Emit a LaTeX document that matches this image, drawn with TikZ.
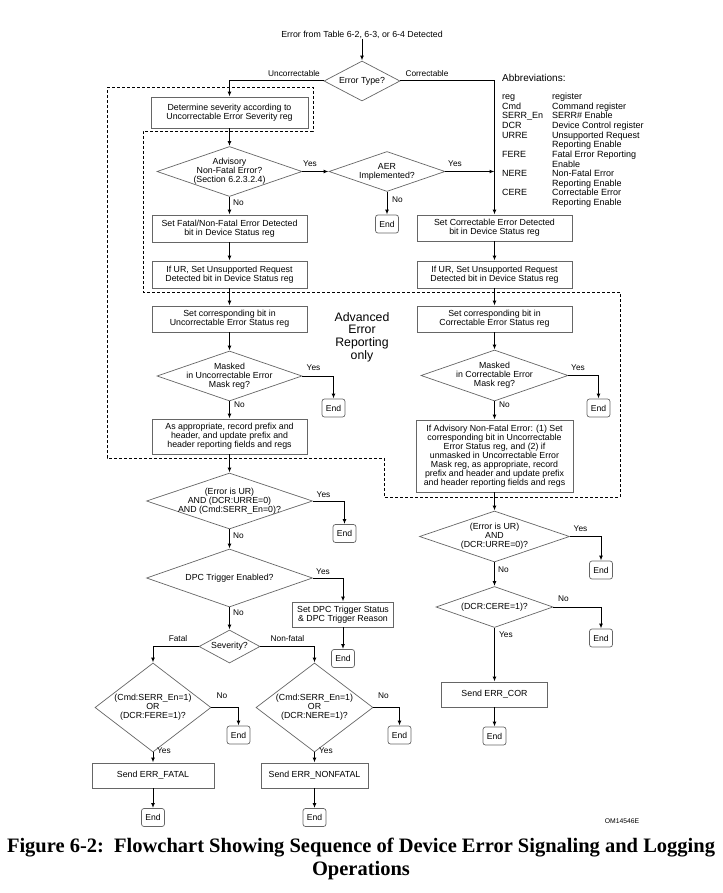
\documentclass[tikz,border=0pt]{standalone}
\usepackage{fontspec}
\setmainfont{Liberation Sans}
\newfontfamily\capfont{Liberation Serif}
\usetikzlibrary{shapes.geometric,arrows.meta}
\newcommand\boxfont{\fontsize{8.8}{9.2}\selectfont}
\newcommand\labfont{\fontsize{8.3}{9}\selectfont}
\newlength\capw
\begin{document}
\settowidth\capw{\capfont\bfseries\fontsize{10}{12}\selectfont Figure 6-2:\ \ Flowchart Showing Sequence of Device Error Signaling and Logging}%
\pgfmathsetmacro\capsz{10*708/\capw}%
\begin{tikzpicture}[x=1pt,y=-1pt,
  box/.style={draw=black!60, line width=0.7pt, rectangle, inner sep=0pt, align=center,
    font=\boxfont, minimum width=155pt, minimum height=27pt},
  dia/.style={draw=black!60, line width=0.7pt, diamond, inner sep=0pt},
  dlab/.style={align=center, font=\boxfont, inner sep=0pt},
  endb/.style={draw=black!60, line width=0.7pt, rounded corners=2.5pt, minimum width=23pt,
    minimum height=18pt, inner sep=0pt, font=\fontsize{8.6}{9}\selectfont},
  arr/.style={line width=1pt, -{Latex[length=5pt,width=3.8pt]}},
  lab/.style={font=\labfont, inner sep=0pt},
  labw/.style={font=\labfont, inner sep=0pt, anchor=west},
  aerbox/.style={line width=0.8pt, dash pattern=on 3pt off 2pt},
]
\fill[white] (0,0) rectangle (722,893);
\useasboundingbox (0,0) rectangle (722,893);

% title
\node[font=\fontsize{8.8}{10}\selectfont, inner sep=0pt] (title) at (362,35) {Error from Table 6-2, 6-3, or 6-4 Detected};
\node[dia, minimum width=76pt, minimum height=40pt] (et) at (362,81) {};
\node[dlab] (et-t) at (et) {Error Type?};

% AER dashed region
\draw[aerbox] (107,87) -- (313,87) -- (313,131) -- (143,131) -- (143,292) -- (620,292)
  -- (620,497) -- (384,497) -- (384,458) -- (107,458) -- cycle;

% left column
\node[box, minimum width=157pt, minimum height=31pt] (det) at (229.5,112.5)
  {Determine severity according to\\Uncorrectable Error Severity reg};
\node[dia, minimum width=145pt, minimum height=50pt] (adv) at (229.5,171.5) {};
\node[dlab] (adv-t) at (adv) {Advisory\\Non-Fatal Error?\\(Section 6.2.3.2.4)};
\node[dia, minimum width=116pt, minimum height=40pt] (aer) at (387,171.5) {};
\node[dlab] (aer-t) at (aer) {AER\\Implemented?};
\node[endb] (e1) at (387,224) {End};
\node[box] (fat) at (229.5,228.5) {Set Fatal/Non-Fatal Error Detected\\bit in Device Status reg};
\node[box] (ur1) at (229.5,274.5) {If UR, Set Unsupported Request\\Detected bit in Device Status reg};
\node[box, minimum height=26pt] (cs1) at (229.5,319) {Set corresponding bit in\\Uncorrectable Error Status reg};
\node[dia, minimum width=145pt, minimum height=50pt] (mask1) at (229.5,376) {};
\node[dlab] (mask1-t) at (mask1) {Masked\\in Uncorrectable Error\\Mask reg?};
\node[endb] (e2) at (333.5,408) {End};
\node[box, minimum height=35pt] (rec1) at (229.5,436.5)
  {As appropriate, record prefix and\\header, and update prefix and\\header reporting fields and regs};
\node[dia, minimum width=166pt, minimum height=56pt] (ur2) at (229.5,501) {};
\node[dlab] (ur2-t) at (ur2) {(Error is UR)\\AND (DCR:URRE=0)\\AND (Cmd:SERR\_En=0)?};
\node[endb] (e3) at (344.5,533.5) {End};
\node[dia, minimum width=166pt, minimum height=58pt] (dpc) at (229.5,578) {};
\node[dlab] (dpc-t) at (dpc) {DPC Trigger Enabled?};
\node[box, minimum width=101pt, minimum height=25pt] (dpcb) at (343,614.5)
  {Set DPC Trigger Status\\\& DPC Trigger Reason};
\node[endb] (e4) at (343,658.5) {End};
\node[dia, minimum width=61pt, minimum height=33pt] (sev) at (229.5,646.5) {};
\node[dlab] (sev-t) at (sev) {Severity?};
\node[dia, minimum width=116pt, minimum height=89pt] (fd) at (153,707.5) {};
\node[dlab] (fd-t) at (fd) {(Cmd:SERR\_En=1)\\OR\\(DCR:FERE=1)?};
\node[dia, minimum width=117pt, minimum height=89pt] (nd) at (314.5,707.5) {};
\node[dlab] (nd-t) at (nd) {(Cmd:SERR\_En=1)\\OR\\(DCR:NERE=1)?};
\node[endb] (e5) at (238.5,735) {End};
\node[endb] (e7) at (399.5,735) {End};
\node[box, minimum width=122pt, minimum height=25pt] (sf) at (153,775.5) {Send ERR\_FATAL};
\node[box, minimum width=107pt, minimum height=25pt] (snf) at (314.5,775.5) {Send ERR\_NONFATAL};
\node[endb] (e6) at (153,817.5) {End};
\node[endb] (e8) at (314.5,817.5) {End};

% right column
\node[box, minimum height=26pt] (corr) at (494.5,228) {Set Correctable Error Detected\\bit in Device Status reg};
\node[box] (ur3) at (494.5,274.5) {If UR, Set Unsupported Request\\Detected bit in Device Status reg};
\node[box, minimum height=26pt] (cs2) at (494.5,319) {Set corresponding bit in\\Correctable Error Status reg};
\node[dia, minimum width=147pt, minimum height=51pt] (mask2) at (494.5,375.5) {};
\node[dlab] (mask2-t) at (mask2) {Masked\\in Correctable Error\\Mask reg?};
\node[endb] (e9) at (598.5,408) {End};
\node[box, minimum width=157pt, minimum height=72pt, font=\fontsize{8.8}{9}\selectfont] (adv2) at (494.5,456)
  {If Advisory Non-Fatal Error: (1) Set\\corresponding bit in Uncorrectable\\Error Status reg, and (2) if\\unmasked in Uncorrectable Error\\Mask reg, as appropriate, record\\prefix and header and update prefix\\and header reporting fields and regs};
\node[dia, minimum width=150pt, minimum height=51pt] (ur4) at (494.5,536.5) {};
\node[dlab] (ur4-t) at (ur4) {(Error is UR)\\AND\\(DCR:URRE=0)?};
\node[endb] (e10) at (601,570) {End};
\node[dia, minimum width=117pt, minimum height=41pt] (cere) at (494.5,607) {};
\node[dlab] (cere-t) at (cere) {(DCR:CERE=1)?};
\node[endb] (e11) at (601,638) {End};
\node[box, minimum width=106pt, minimum height=25pt] (sendc) at (494.5,694.5) {Send ERR\_COR};
\node[endb] (e12) at (494.5,736) {End};

% abbreviations
\node[font=\fontsize{10}{12}\selectfont, inner sep=0pt, anchor=west] (abbt) at (502,78) {Abbreviations:};
\node[font=\fontsize{9}{9.65}\selectfont, inner sep=0pt, anchor=north west] (abb) at (502,92.5) {%
\begin{tabular}{@{}p{50pt}@{}l@{}}
reg & register\\
Cmd & Command register\\
SERR\_En & SERR\# Enable\\
DCR & Device Control register\\
URRE & Unsupported Request\\
 & Reporting Enable\\
FERE & Fatal Error Reporting\\
 & Enable\\
NERE & Non-Fatal Error\\
 & Reporting Enable\\
CERE & Correctable Error\\
 & Reporting Enable
\end{tabular}};

\node[font=\fontsize{12.3}{12.6}\selectfont, align=center, inner sep=0pt] (aertxt) at (362,337)
  {Advanced\\Error\\Reporting\\only};

% connectors
\draw[arr] (title) -- (et);
\draw[arr] (et.west) -| (det.north);
\draw[arr] (et.east) -| (corr.north);
\draw[arr] (det) -- (adv);
\draw[arr] (adv.east) -- (aer.west);
\draw[arr] (aer.east) -- (aer.east -| corr.north);
\draw[arr] (aer) -- (e1);
\draw[arr] (adv) -- (fat);
\draw[arr] (fat) -- (ur1);
\draw[arr] (ur1) -- (cs1);
\draw[arr] (cs1) -- (mask1);
\draw[arr] (mask1.east) -| (e2.north);
\draw[arr] (mask1) -- (rec1);
\draw[arr] (rec1) -- (ur2);
\draw[arr] (ur2.east) -| (e3.north);
\draw[arr] (ur2) -- (dpc);
\draw[arr] (dpc.east) -| (dpcb.north);
\draw[arr] (dpcb) -- (e4);
\draw[arr] (dpc) -- (sev);
\draw[arr] (sev.west) -| (fd.north);
\draw[arr] (sev.east) -| (nd.north);
\draw[arr] (fd.east) -| (e5.north);
\draw[arr] (nd.east) -| (e7.north);
\draw[arr] (fd) -- (sf);
\draw[arr] (nd) -- (snf);
\draw[arr] (sf) -- (e6);
\draw[arr] (snf) -- (e8);

\draw[arr] (corr) -- (ur3);
\draw[arr] (ur3) -- (cs2);
\draw[arr] (cs2) -- (mask2);
\draw[arr] (mask2.east) -| (e9.north);
\draw[arr] (mask2) -- (adv2);
\draw[arr] (adv2) -- (ur4);
\draw[arr] (ur4.east) -| (e10.north);
\draw[arr] (ur4) -- (cere);
\draw[arr] (cere.east) -| (e11.north);
\draw[arr] (cere) -- (sendc);
\draw[arr] (sendc) -- (e12);

% connector labels
\node[lab] (l-unc) at (294,74) {Uncorrectable};
\node[lab] (l-cor) at (427,74) {Correctable};
\node[lab] (l1) at (310,164) {Yes};
\node[lab] (l2) at (455,164) {Yes};
\node[labw] (l3) at (392,200) {No};
\node[labw] (l4) at (233,203) {No};
\node[lab] (l5) at (313.5,368) {Yes};
\node[labw] (l6) at (234,405) {No};
\node[lab] (l7) at (323.5,495) {Yes};
\node[labw] (l8) at (233,536) {No};
\node[lab] (l9) at (323,572) {Yes};
\node[labw] (l10) at (233,613) {No};
\node[lab] (l11) at (178,639) {Fatal};
\node[lab] (l12) at (287.5,639) {Non-fatal};
\node[lab] (l13) at (222,696) {No};
\node[lab] (l14) at (383.5,696) {No};
\node[labw] (l15) at (157,751) {Yes};
\node[labw] (l16) at (319,751) {Yes};
\node[lab] (l17) at (578,368) {Yes};
\node[labw] (l18) at (499,405) {No};
\node[lab] (l19) at (580.5,529) {Yes};
\node[labw] (l20) at (498,570) {No};
\node[lab] (l21) at (563.5,599) {No};
\node[labw] (l22) at (499,635) {Yes};

\node[font=\fontsize{6.8}{7}\selectfont, inner sep=0pt] (om) at (622,821) {OM14546E};

% caption
\node[font=\capfont\bfseries\fontsize{\capsz}{23}\selectfont, inner sep=0pt] (cap1) at (361,848)
  {Figure 6-2:\ \ Flowchart Showing Sequence of Device Error Signaling and Logging};
\node[font=\capfont\bfseries\fontsize{\capsz}{23}\selectfont, inner sep=0pt] (cap2) at (361,871) {Operations};
\end{tikzpicture}
\end{document}
